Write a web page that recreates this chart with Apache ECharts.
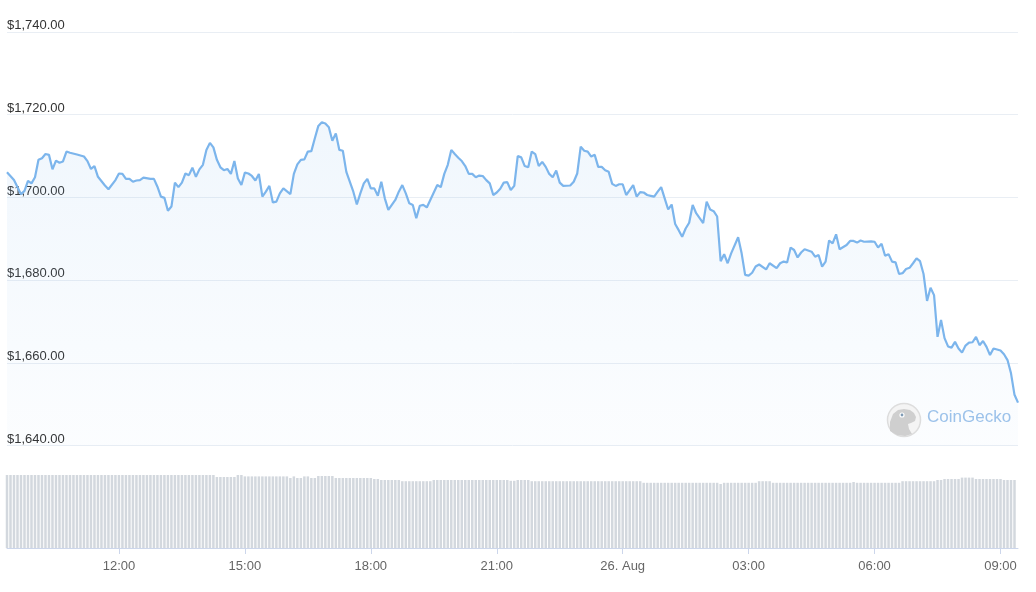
<!DOCTYPE html>
<html>
<head>
<meta charset="utf-8">
<script src="https://cdn.jsdelivr.net/npm/echarts@6/dist/echarts.min.js"></script>
<style>
html,body{margin:0;padding:0;background:#fff;}
#chart{width:1036px;height:592px;}
</style>
</head>
<body>
<div id="chart"></div>
<script>
// Price samples (UTC), 25 Aug -> 26 Aug
const priceTimes = [
'09:20','09:30','09:40','09:45','09:50','09:55','10:00','10:05','10:10','10:15',
'10:20','10:25','10:30','10:35','10:40','10:45','10:50','11:00','11:10','11:15',
'11:20','11:25','11:30','11:40','11:45','11:55','12:00','12:05','12:10','12:15',
'12:20','12:25','12:30','12:35','12:45','12:50','12:55','13:00','13:05','13:10',
'13:15','13:20','13:25','13:30','13:35','13:40','13:45','13:50','13:55','14:00',
'14:05','14:10','14:15','14:20','14:25','14:30','14:35','14:40','14:45','14:50',
'14:55','15:00','15:05','15:10','15:15','15:20','15:25','15:30','15:35','15:40',
'15:45','15:50','15:55','16:05','16:10','16:15','16:20','16:25','16:30','16:35',
'16:40','16:45','16:50','16:55','17:00','17:05','17:10','17:15','17:20','17:25',
'17:35','17:40','17:45','17:50','17:55','18:00','18:05','18:10','18:15','18:20',
'18:25','18:30','18:35','18:40','18:45','18:50','18:55','19:00','19:05','19:10',
'19:15','19:20','19:25','19:35','19:40','19:45','19:50','19:55','20:00','20:05',
'20:10','20:15','20:20','20:25','20:30','20:35','20:40','20:45','20:50','20:55',
'21:00','21:05','21:10','21:15','21:20','21:25','21:30','21:35','21:40','21:45',
'21:50','21:55','22:00','22:05','22:10','22:15','22:20','22:25','22:30','22:35',
'22:45','22:50','22:55','23:00','23:05','23:10','23:15','23:20','23:25','23:30',
'23:35','23:40','23:45','23:50','23:55','00:00','00:05','00:10','00:15','00:20',
'00:25','00:30','00:35','00:40','00:45','00:50','00:55','01:00','01:05','01:10',
'01:15','01:20','01:25','01:30','01:35','01:40','01:45','01:50','01:55','02:00',
'02:05','02:10','02:15','02:20','02:25','02:30','02:35','02:45','02:50','02:55',
'03:00','03:05','03:10','03:15','03:25','03:30','03:40','03:45','03:50','03:55',
'04:00','04:05','04:10','04:15','04:20','04:30','04:35','04:40','04:45','04:50',
'04:55','05:00','05:05','05:10','05:20','05:25','05:30','05:35','05:40','05:45',
'05:55','06:00','06:05','06:10','06:15','06:20','06:25','06:30','06:35','06:40',
'06:45','06:50','06:55','07:00','07:05','07:10','07:15','07:20','07:25','07:30',
'07:35','07:40','07:45','07:50','07:55','08:00','08:05','08:10','08:15','08:20',
'08:25','08:30','08:35','08:40','08:45','08:50','09:00','09:05','09:10','09:15',
'09:20','09:25'
];
const prices = [
1706.1,1704.2,1700.8,1701.6,1704.0,1703.4,1704.9,1709.1,1709.5,1710.5,
1710.3,1706.8,1708.9,1708.4,1708.7,1711.1,1710.8,1710.4,1709.9,1708.8,
1706.9,1707.6,1705.0,1702.9,1702.0,1704.2,1705.8,1705.7,1704.5,1704.5,
1703.8,1704.1,1704.2,1704.8,1704.5,1704.5,1702.6,1700.2,1699.9,1696.8,
1697.8,1703.6,1702.5,1703.6,1705.8,1705.4,1707.2,1705.0,1706.8,1707.9,
1711.5,1713.2,1712.1,1709.1,1707.3,1706.6,1706.9,1705.7,1708.8,1704.6,
1703.0,1706.0,1705.8,1705.2,1704.1,1705.7,1700.2,1701.4,1702.8,1698.8,
1699.0,1701.0,1702.2,1700.8,1705.7,1708.0,1709.1,1709.2,1711.1,1711.2,
1714.3,1717.3,1718.2,1717.9,1717.0,1713.7,1715.5,1711.5,1711.3,1706.2,
1701.4,1698.3,1701.0,1703.4,1704.5,1702.2,1702.2,1700.4,1703.8,1699.8,
1697.0,1698.2,1699.4,1701.4,1703.0,1701.0,1698.6,1698.2,1695.0,1698.0,
1698.2,1697.6,1699.4,1703.0,1702.5,1705.7,1707.9,1711.5,1710.5,1709.6,
1708.8,1707.6,1705.7,1705.7,1704.9,1705.3,1705.2,1704.2,1703.4,1700.6,
1701.2,1702.1,1703.6,1703.7,1701.8,1702.8,1710.0,1709.7,1707.6,1707.3,
1711.1,1710.5,1707.6,1708.6,1707.4,1705.7,1704.9,1706.5,1703.6,1702.8,
1702.9,1703.8,1705.8,1712.3,1711.3,1711.1,1709.9,1710.3,1707.4,1707.4,
1706.6,1706.2,1703.3,1702.8,1703.2,1703.2,1700.6,1701.8,1703.0,1700.2,
1701.3,1701.2,1700.6,1700.4,1700.2,1701.4,1702.5,1699.8,1697.1,1698.3,
1693.6,1692.1,1690.5,1692.5,1693.9,1698.2,1696.2,1695.0,1693.8,1699.0,
1697.1,1696.7,1695.4,1684.6,1686.3,1684.1,1686.5,1690.4,1686.5,1681.3,
1681.1,1681.8,1683.3,1683.8,1682.6,1684.1,1682.9,1684.1,1684.5,1684.3,
1687.9,1687.3,1685.5,1686.7,1687.5,1686.9,1685.7,1686.1,1683.3,1684.5,
1689.6,1688.9,1691.1,1687.5,1688.5,1689.5,1689.5,1689.1,1689.6,1689.3,
1689.4,1689.3,1687.9,1688.8,1685.9,1686.3,1684.5,1684.3,1681.5,1681.7,
1682.7,1683.0,1684.1,1685.3,1684.6,1681.5,1675.0,1678.2,1676.4,1666.3,
1670.4,1666.0,1664.0,1663.7,1665.1,1663.5,1662.5,1664.2,1664.9,1665.0,
1666.3,1664.3,1665.3,1663.9,1661.9,1663.5,1663.0,1662.1,1660.7,1657.5,
1652.3,1650.4
];
// Volume (USD billions, rolling), one bar every 5 minutes from 25 Aug 09:20
const volumes = [
18.25,18.25,18.25,18.25,18.25,18.25,18.25,18.25,18.25,18.25,
18.25,18.25,18.25,18.25,18.25,18.25,18.25,18.25,18.25,18.25,
18.25,18.25,18.25,18.25,18.25,18.25,18.25,18.25,18.25,18.25,
18.25,18.25,18.25,18.25,18.25,18.25,18.25,18.25,18.25,18.25,
18.25,18.25,18.25,18.25,18.25,18.25,18.25,18.25,18.25,18.25,
18.25,18.25,18.25,18.25,18.25,18.25,18.25,18.25,18.25,18.25,
17.75,17.75,17.75,17.75,17.75,17.75,18.25,18.25,
17.9,17.9,17.9,17.9,17.9,17.9,17.9,17.9,17.9,17.9,17.9,17.9,17.9,
17.5,17.9,17.5,17.5,17.9,17.9,17.5,17.5,
18.0,18.0,18.0,18.0,18.0,
17.5,17.5,17.5,17.5,17.5,17.5,17.5,17.5,17.5,17.5,17.5,
17.25,17.25,
17.0,17.0,17.0,17.0,17.0,17.0,
16.7,16.7,16.7,16.7,16.7,16.7,16.7,16.7,16.7,
17.0,17.0,17.0,17.0,17.0,17.0,17.0,17.0,17.0,17.0,17.0,
17.0,17.0,17.0,17.0,17.0,17.0,17.0,17.0,17.0,17.0,17.0,
16.8,16.8,
17.0,17.0,17.0,17.0,
16.7,16.7,16.7,16.7,16.7,16.7,16.7,16.7,16.7,16.7,16.7,16.7,16.7,16.7,16.7,16.7,
16.7,16.7,16.7,16.7,16.7,16.7,16.7,16.7,16.7,16.7,16.7,16.7,16.7,16.7,16.7,16.7,
16.3,16.3,16.3,16.3,16.3,16.3,16.3,16.3,16.3,16.3,16.3,
16.3,16.3,16.3,16.3,16.3,16.3,16.3,16.3,16.3,16.3,16.3,
16.0,
16.3,16.3,16.3,16.3,16.3,16.3,16.3,16.3,16.3,16.3,
16.7,16.7,16.7,16.7,
16.3,16.3,16.3,16.3,16.3,16.3,16.3,16.3,16.3,16.3,16.3,16.3,
16.3,16.3,16.3,16.3,16.3,16.3,16.3,16.3,16.3,16.3,16.3,
16.5,
16.3,16.3,16.3,16.3,16.3,16.3,16.3,16.3,16.3,16.3,16.3,16.3,16.3,
16.7,16.7,16.7,16.7,16.7,16.7,16.7,16.7,16.7,16.7,
17.0,17.0,
17.25,17.25,17.25,17.25,17.25,
17.6,17.6,17.6,17.6,
17.25,17.25,17.25,17.25,17.25,17.25,17.25,17.25,
17.0,17.0,17.0,17.0
];
const priceTicks = [1640, 1660, 1680, 1700, 1720, 1740];
const timeTicks = ['12:00', '15:00', '18:00', '21:00', '00:00', '03:00', '06:00', '09:00'];

// --- build timestamps ---
const START = Date.UTC(2022, 7, 25, 9, 20);
const STEP = 5 * 60 * 1000;
function buildTimes(list) {
  let day = 25, prev = -1, out = [];
  list.forEach(s => {
    const [h, m] = s.split(':').map(Number);
    const mins = h * 60 + m;
    if (prev >= 0 && mins < prev) day += 1;
    prev = mins;
    out.push(Date.UTC(2022, 7, day, h, m));
  });
  return out;
}
const pTimes = buildTimes(priceTimes);
const tickValues = buildTimes(timeTicks);
const priceData = pTimes.map((t, i) => [t, prices[i]]);
const volData = volumes.map((v, i) => [START + i * STEP, v]);
const xMin = pTimes[0];
const xMax = pTimes[pTimes.length - 1];

function fmtPrice(v) {
  const s = v.toFixed(2);
  const [a, b] = s.split('.');
  return '$' + a.replace(/\B(?=(\d{3})+(?!\d))/g, ',') + '.' + b;
}
function fmtTime(v) {
  const d = new Date(v);
  const h = d.getUTCHours(), m = d.getUTCMinutes();
  if (h === 0 && m === 0) return d.getUTCDate() + '. Aug';
  return String(h).padStart(2, '0') + ':' + String(m).padStart(2, '0');
}

const chart = echarts.init(document.getElementById('chart'), null, {renderer: 'canvas'});
chart.setOption({
  animation: false,
  backgroundColor: '#ffffff',
  grid: [
    {left: 7, right: 18, top: 32, height: 413.7},
    {left: 7, right: 18, top: 475, height: 73}
  ],
  xAxis: [
    {type: 'value', gridIndex: 0, min: xMin, max: xMax, show: false, splitLine: {show: false}},
    {type: 'value', gridIndex: 1, min: xMin, max: xMax,
     axisLine: {show: true, lineStyle: {color: '#ccd6eb', width: 1}},
     axisTick: {show: true, length: 6, customValues: tickValues, lineStyle: {color: '#ccd6eb'}},
     splitLine: {show: false},
     axisLabel: {customValues: tickValues, formatter: fmtTime, color: '#666666', fontSize: 13,
       fontFamily: 'Liberation Sans, Arial, sans-serif', margin: 12,
       showMinLabel: true, showMaxLabel: true, hideOverlap: false}}
  ],
  yAxis: [
    {type: 'value', gridIndex: 0, min: priceTicks[0], max: priceTicks[priceTicks.length - 1], interval: 20,
     axisLine: {show: false}, axisTick: {show: false},
     splitLine: {show: true, lineStyle: {color: '#e9eef4', width: 1}},
     axisLabel: {inside: true, align: 'left', verticalAlign: 'bottom', lineHeight: 13, margin: 0,
       formatter: fmtPrice, color: '#333333', fontSize: 13,
       fontFamily: 'Liberation Sans, Arial, sans-serif'}},
    {type: 'value', gridIndex: 1, min: 0, max: 18.25, show: false,
     splitLine: {show: false}}
  ],
  series: [
    {type: 'line', xAxisIndex: 0, yAxisIndex: 0, data: priceData,
     showSymbol: false, smooth: false,
     lineStyle: {color: '#7cb5ec', width: 2.2},
     itemStyle: {color: '#7cb5ec'},
     areaStyle: {origin: 'start', color: {type: 'linear', x: 0, y: 0, x2: 0, y2: 1,
       colorStops: [{offset: 0, color: 'rgba(124,181,236,0.16)'}, {offset: 1, color: 'rgba(124,181,236,0.04)'}]}}},
    {type: 'bar', xAxisIndex: 1, yAxisIndex: 1, data: volData,
     barWidth: 2.5, itemStyle: {color: '#d3d8de'}}
  ],
  graphic: [
    {type: 'circle', shape: {cx: 904, cy: 420, r: 16.5},
     style: {fill: '#f4f4f4', stroke: '#dddddd', lineWidth: 1.5}, z: 100},
    {type: 'polygon', z: 101,
     shape: {points: [[890,431],[890,422],[893,414],[898,410],[904,409],[910,410],[914,413],[916,417],[915,421],[911,423],[908,424],[909,429],[912,434],[905,436],[897,435]]},
     style: {fill: '#cfcfcf'}},
    {type: 'circle', z: 102, shape: {cx: 902, cy: 415, r: 2.6}, style: {fill: '#ffffff'}},
    {type: 'circle', z: 103, shape: {cx: 902, cy: 415, r: 1.4}, style: {fill: '#7f9bb5'}},
    {type: 'text', z: 100, left: 927, top: 409,
     style: {text: 'CoinGecko', fill: '#9cc2ea', fontSize: 17,
       fontFamily: 'Liberation Sans, Arial, sans-serif'}}
  ]
});
</script>
</body>
</html>
